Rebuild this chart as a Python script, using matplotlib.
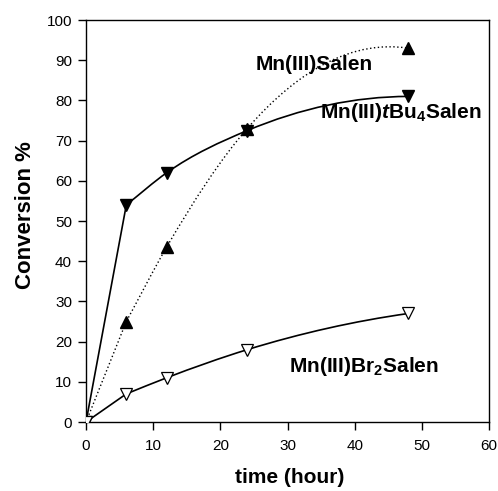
import numpy as np
from matplotlib import pyplot as plt
from matplotlib.path import Path
from matplotlib.patches import PathPatch

plt.rcParams['font.family'] = ['Liberation Sans', 'DejaVu Sans']
plt.rcParams['mathtext.fontset'] = 'custom'
plt.rcParams['mathtext.rm'] = 'Liberation Sans'
plt.rcParams['mathtext.bf'] = 'Liberation Sans:bold'
plt.rcParams['mathtext.bfit'] = 'Liberation Sans:bold:italic'
plt.rcParams['mathtext.it'] = 'Liberation Sans:italic'

time_h = [0, 6, 12, 24, 48]
salen = [0, 25, 43.5, 73, 93]
tbu4_salen = [0, 54, 62, 72.5, 81]
br2_salen = [0, 7, 11, 18, 27]


def smooth_path(x, y):
    # straight first leg, then hermite curve (as bezier) through the rest
    x = np.asarray(x, float)
    y = np.asarray(y, float)
    h = np.diff(x)
    d = np.diff(y) / h
    n = len(x)
    m = np.zeros(n)
    m[1] = d[1]
    for i in range(2, n - 1):
        m[i] = (h[i] * d[i - 1] + h[i - 1] * d[i]) / (h[i - 1] + h[i])
    m[-1] = 2 * d[-1] - m[-2]
    verts = [(x[0], y[0]), (x[1], y[1])]
    codes = [Path.MOVETO, Path.LINETO]
    for i in range(1, n - 1):
        c1 = (x[i] + h[i] / 3, y[i] + m[i] * h[i] / 3)
        c2 = (x[i + 1] - h[i] / 3, y[i + 1] - m[i + 1] * h[i] / 3)
        verts += [c1, c2, (x[i + 1], y[i + 1])]
        codes += [Path.CURVE4] * 3
    return Path(verts, codes)


fig = plt.figure(figsize=(4.98, 4.91), dpi=100)
ax = fig.add_axes([0.1727, 0.1405, 0.8093, 0.8187])

ax.add_patch(PathPatch(smooth_path(time_h, salen), fill=False, ls=(0, (1, 1.8)), lw=1.0, color='black'))
ax.add_patch(PathPatch(smooth_path(time_h, tbu4_salen), fill=False, lw=1.2, color='black'))
ax.add_patch(PathPatch(smooth_path(time_h, br2_salen), fill=False, lw=1.2, color='black'))

ax.plot(time_h, salen, ls='none', marker='^', ms=8, color='black', zorder=3)
ax.plot(time_h, tbu4_salen, ls='none', marker='v', ms=8, color='black', zorder=3)
ax.plot(time_h, br2_salen, ls='none', marker='v', ms=8, mfc='white', mec='black', mew=0.9, zorder=3)

ax.text(25.2, 87.6, 'Mn(III)Salen', fontsize=15, fontweight='bold', va='baseline')
ax.text(34.8, 75.6, 'Mn(III)$\\mathbfit{t}$Bu$_\\mathbf{4}$Salen', fontsize=15, fontweight='bold', va='baseline')
ax.text(30.2, 12.4, 'Mn(III)Br$_\\mathbf{2}$Salen', fontsize=15, fontweight='bold', va='baseline')

ax.set_xlim(0, 60)
ax.set_ylim(0, 100)
ax.set_xticks(range(0, 61, 10))
ax.set_yticks(range(0, 101, 10))
ax.tick_params(direction='out', length=6, width=1, labelsize=11, right=False, top=False)
ax.tick_params(axis='x', pad=6)
ax.tick_params(axis='y', pad=4)
ax.set_xlabel('time (hour)', fontsize=15, fontweight='bold')
ax.set_ylabel('Conversion %', fontsize=16, fontweight='bold')
ax.xaxis.set_label_coords(0.505, -0.139)
ax.yaxis.set_label_coords(-0.151, 0.515)
ax.xaxis.label.set_va('center')
ax.yaxis.label.set_va('center')
for s in ax.spines.values():
    s.set_linewidth(1.0)

fig.savefig('out.png', dpi=100)
